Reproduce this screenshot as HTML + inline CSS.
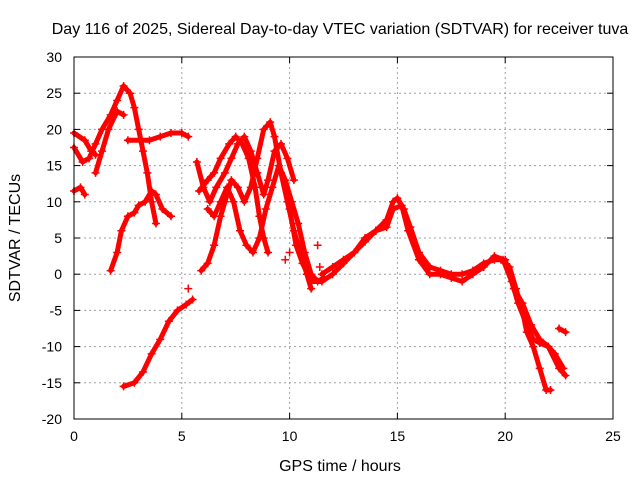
<!DOCTYPE html>
<html><head><meta charset="utf-8"><style>
body{margin:0;background:#fff}
svg text{font-family:"Liberation Sans",sans-serif;fill:#000}
</style></head><body>
<svg id="chart" width="640" height="480" viewBox="0 0 640 480">
<rect width="640" height="480" fill="#fff"/>
<text x="340" y="34" font-size="16" text-anchor="middle">Day 116 of 2025, Sidereal Day-to-day VTEC variation (SDTVAR) for receiver tuva</text>
<g id="grid"></g>
<g id="series"></g>
<rect x="74" y="57" width="539" height="362" fill="none" stroke="#000" stroke-width="1"/>
<g id="ticks"></g>
<text x="340" y="471" font-size="16" text-anchor="middle">GPS time / hours</text>
<text transform="translate(20,238) rotate(-90)" font-size="16" text-anchor="middle">SDTVAR / TECUs</text>
</svg>
<script>
const xTicks=[0,5,10,15,20,25];
const yTicks=[-20,-15,-10,-5,0,5,10,15,20,25,30];
const trackA=[[0,17.5],[0.4,15.5],[0.7,16],[1.0,18],[1.3,20],[1.7,22],[2.0,24],[2.3,26],[2.6,25],[2.8,23],[3.0,20],[3.2,17],[3.4,14],[3.6,10],[3.8,7]];
const trackB=[[0,19.5],[0.5,18.5],[0.8,17],[1.0,16.5]];
const trackB2=[[1.0,14],[1.3,17],[1.6,20],[2.0,22.5],[2.3,22]];
const trackC=[[0,11.5],[0.3,12],[0.5,11]];
const trackD=[[1.7,0.5],[2.0,3],[2.2,6],[2.5,8],[2.8,8.5],[3.0,9.5],[3.3,10],[3.6,11.5],[3.8,11],[4.1,9],[4.5,8]];
const trackE=[[2.5,18.5],[3.5,18.5],[4.0,19],[4.5,19.5],[5.0,19.5],[5.3,19]];
const trackF=[[2.3,-15.5],[2.8,-15],[3.2,-13.5],[3.6,-11],[4.0,-9],[4.4,-6.5],[4.8,-5],[5.2,-4.2],[5.5,-3.5]];
const trackG1=[[5.7,15.5],[6.0,12],[6.3,10],[6.6,12],[7.0,14],[7.3,16],[7.6,18],[7.9,19],[8.2,17],[8.5,14],[8.8,11],[9.0,13],[9.3,17],[9.6,18],[9.9,16],[10.2,13]];
const trackG2=[[5.8,11.5],[6.2,13],[6.5,14],[6.8,16],[7.2,18],[7.5,19],[7.8,18],[8.1,16],[8.4,12],[8.6,8],[8.8,5],[9.0,3]];
const trackG3=[[5.9,0.5],[6.2,1.5],[6.5,4],[6.8,8],[7.0,10],[7.3,13],[7.6,12],[7.9,10],[8.2,12],[8.5,16],[8.8,20],[9.1,21],[9.3,19],[9.6,14],[9.9,10],[10.2,6],[10.5,3],[10.8,0],[11.0,-2]];
const trackG4=[[6.2,9],[6.5,8],[6.8,10],[7.1,12],[7.4,10],[7.7,6],[8.0,4],[8.3,3],[8.6,5],[8.9,9],[9.2,12],[9.5,15],[9.8,13],[10.1,10],[10.4,7],[10.7,3],[11.0,0],[11.3,-1],[11.6,-0.5]];
const trackH=[[10.0,9],[10.3,4],[10.6,1.5],[11.0,-1],[11.5,-1],[12.0,0],[12.5,1.5],[13.0,3],[13.5,4.5],[14.0,6],[14.5,7.5],[14.8,10],[15.0,10.5],[15.3,9],[15.6,6.5],[16.0,3],[16.5,1],[17.0,0.5],[17.5,0],[18.0,0],[18.5,0.5],[19.0,1.5],[19.5,2],[19.8,2],[20.2,1],[20.5,-2],[20.8,-5],[21.0,-8],[21.3,-10],[21.6,-13],[21.9,-16],[22.1,-16]];
const trackH2=[[11.5,0],[12,1],[12.5,2],[13,3],[13.5,5],[14,6],[14.5,6.5],[14.8,9],[15.2,9.5],[15.5,6],[16,2],[16.5,0],[17,0],[17.5,-0.5],[18,-1],[18.5,0],[19,1],[19.5,2.5],[19.9,2],[20.3,-1],[20.6,-4],[21,-7],[21.3,-9],[21.6,-9.5],[22,-10],[22.3,-11],[22.7,-13]];
const trackH3=[[20.0,2],[20.4,-2],[20.8,-4],[21.2,-7],[21.6,-9],[22,-10],[22.5,-13],[22.8,-14]];
const trackI=[[22.5,-7.5],[22.8,-8]];
const trackJ=[[9.8,2],[10.0,3],[11.3,4],[11.4,1],[5.3,-2]];
const tracks=[trackA,trackB,trackB2,trackC,trackD,trackE,trackF,trackG1,trackG2,trackG3,trackG4,trackH,trackH2,trackH3,trackI];

const X0=74,X1=613,Y0=419,Y1=57;
const sx=v=>X0+(v-0)/(25-0)*(X1-X0);
const sy=v=>Y0-(v+20)/(50)*(Y0-Y1);
const NS="http://www.w3.org/2000/svg";
const grid=document.getElementById('grid'),ticks=document.getElementById('ticks'),ser=document.getElementById('series');
function mk(t,a,p){const e=document.createElementNS(NS,t);for(const k in a)e.setAttribute(k,a[k]);p.appendChild(e);return e;}
xTicks.forEach(v=>{const x=sx(v);
 if(v>0&&v<25){const l=mk('line',{x1:x,x2:x,y1:Y1,y2:Y0,stroke:'#a0a0a0','stroke-dasharray':'2,3'},grid);
 
 }
 mk('line',{x1:x,x2:x,y1:Y0,y2:Y0-6,stroke:'#000'},ticks);mk('line',{x1:x,x2:x,y1:Y1,y2:Y1+6,stroke:'#000'},ticks);
 const t=mk('text',{x:x,y:Y0+22,'font-size':14,'text-anchor':'middle'},ticks);t.textContent=v;
 
 });
yTicks.forEach(v=>{const y=sy(v);
 if(v>-20&&v<30){const l=mk('line',{x1:X0,x2:X1,y1:y,y2:y,stroke:'#a0a0a0','stroke-dasharray':'2,3'},grid);
 
 }
 mk('line',{x1:X0,x2:X0+6,y1:y,y2:y,stroke:'#000'},ticks);mk('line',{x1:X1,x2:X1-6,y1:y,y2:y,stroke:'#000'},ticks);
 const t=mk('text',{x:X0-12,y:y+5,'font-size':14,'text-anchor':'end'},ticks);t.textContent=v;
 
 });
tracks.forEach(tr=>{
 const pl=mk('polyline',{points:tr.map(p=>sx(p[0])+','+sy(p[1])).join(' '),fill:'none',stroke:'#f00','stroke-width':5,'stroke-linejoin':'round','stroke-linecap':'round'},ser);
 
 
 tr.forEach(p=>{const x=sx(p[0]),y=sy(p[1]);
  const m=mk('path',{d:`M${x-4},${y}H${x+4}M${x},${y-4}V${y+4}`,stroke:'#f00','stroke-width':1.5},ser);
  
  });
});
trackJ.forEach(p=>{const x=sx(p[0]),y=sy(p[1]);
 const m=mk('path',{d:`M${x-4},${y}H${x+4}M${x},${y-4}V${y+4}`,stroke:'#f00','stroke-width':1.5},ser);
 
 });
</script>
</body></html>
